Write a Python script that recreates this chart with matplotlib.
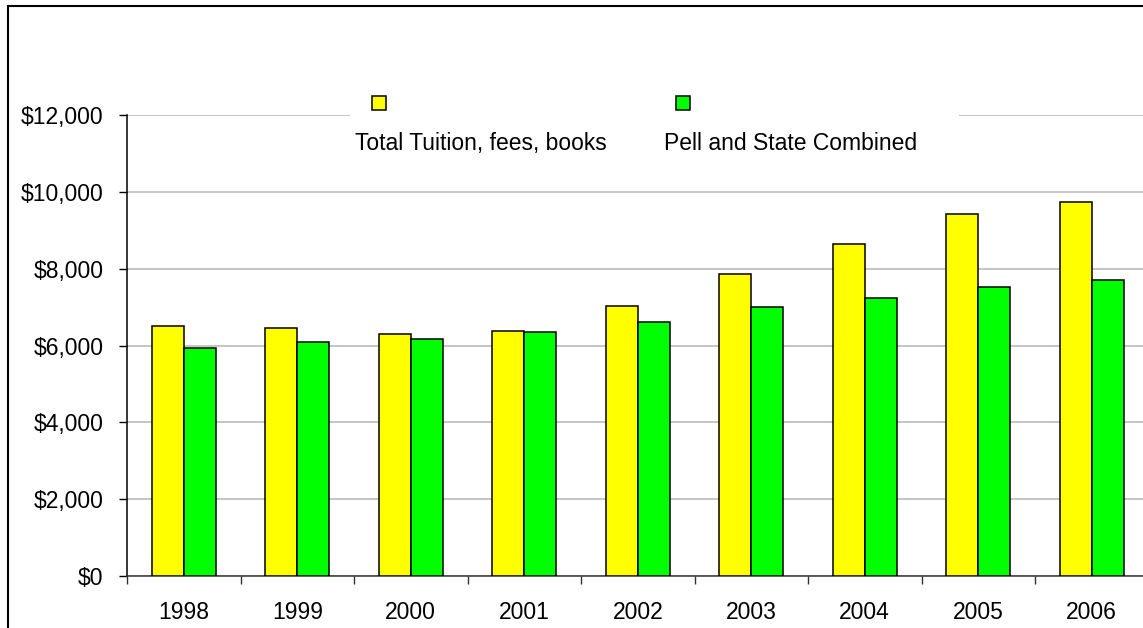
import matplotlib.pyplot as plt
from matplotlib.patches import Rectangle
from matplotlib.ticker import FuncFormatter
import numpy as np

plt.rcParams['font.family'] = ['Liberation Sans', 'DejaVu Sans']

years = ['1998', '1999', '2000', '2001', '2002', '2003', '2004', '2005', '2006']
tuition = [6510, 6465, 6305, 6385, 7035, 7860, 8640, 9430, 9745]
pell_state = [5925, 6090, 6175, 6345, 6620, 7000, 7245, 7530, 7695]
series_names = ['Total Tuition, fees, books', 'Pell and State Combined']
colors = ['#ffff00', '#00ff00']

W, H = 1143, 628
FS = 16.5
fig = plt.figure(figsize=(W / 100, H / 100), dpi=100)

def fx(px):
    return px / W

def fy(py):
    return 1 - py / H

# plot area in pixels: left 127, top 115, bottom 576, category width 113.5
ax = fig.add_axes([fx(127), 1 - 576 / H, 9 * 113.5 / W, (576 - 115) / H])

x = np.arange(len(years)) + 0.5
bw = 0.282
ax.bar(x - bw / 2, tuition, bw, color=colors[0], edgecolor='black', linewidth=1.1, zorder=3)
ax.bar(x + bw / 2, pell_state, bw, color=colors[1], edgecolor='black', linewidth=1.1, zorder=3)

ax.set_xlim(0, 9)
ax.set_ylim(0, 12000)
ax.set_yticks(np.arange(0, 12001, 2000))
ax.yaxis.set_major_formatter(FuncFormatter(lambda v, p: '${:,.0f}'.format(v)))
ax.grid(axis='y', color='#c0c0c0', linewidth=1.3, zorder=0)

ax.set_xticks(x)
ax.set_xticklabels(years)
ax.set_xticks(np.arange(0, 10), minor=True)
ax.tick_params(axis='x', which='major', length=0, pad=18, labelsize=FS)
ax.tick_params(axis='x', which='minor', length=6, width=1, direction='out', color='#333333')
ax.tick_params(axis='y', length=6, width=1, direction='out', pad=11, labelsize=FS)

for s in ['top', 'right']:
    ax.spines[s].set_visible(False)
ax.spines['left'].set_linewidth(1.1)
ax.spines['bottom'].set_linewidth(1.1)
ax.spines['bottom'].set_color('#333333')

# legend block with a white background over the top gridline
fig.patches.append(Rectangle((fx(350), fy(165)), fx(959) - fx(350), fy(90) - fy(165),
                             transform=fig.transFigure, facecolor='white', edgecolor='none', zorder=5))
marker_x = [372, 676]
text_x = [355, 664]
for mx, tx, c, name in zip(marker_x, text_x, colors, series_names):
    fig.patches.append(Rectangle((fx(mx), fy(110)), fx(14), 14 / H, transform=fig.transFigure,
                                 facecolor=c, edgecolor='black', linewidth=1.1, zorder=6))
    fig.text(fx(tx), fy(144), name, fontsize=FS, ha='left', va='center', zorder=6)

# outer border
fig.patches.append(Rectangle((fx(8), -0.1), 1.2, fy(6.5) + 0.1, transform=fig.transFigure,
                             facecolor='none', edgecolor='black', linewidth=1.5, zorder=7))

fig.savefig('out.png', dpi=100)
